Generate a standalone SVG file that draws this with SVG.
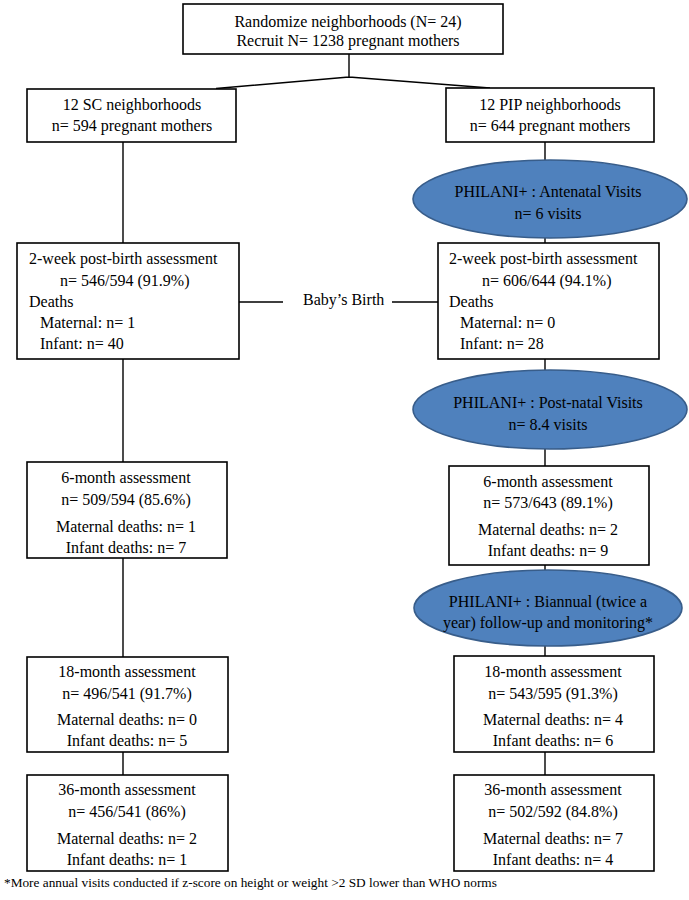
<svg xmlns="http://www.w3.org/2000/svg" width="689" height="900" viewBox="0 0 689 900">
<style>
text{font-family:"Liberation Serif","Times New Roman",serif;font-size:16px;fill:#000}
.c{text-anchor:middle}
.box{fill:#fff;stroke:#000;stroke-width:1.6}
.ell{fill:#4f81bd;stroke:#385d8a;stroke-width:1.6}
.ln{stroke:#000;stroke-width:1.4;fill:none}
.fn{font-size:13.3px}
</style>
<rect width="689" height="900" fill="#fff"/>
<g id="connectors">
<path class="ln" d="M349 54V77M349 77L216 88.5M349 77L490 88"/>
<path class="ln" d="M123 142V243M123 359V462M123 558V657M123 752V775"/>
<path class="ln" d="M545 142V160M545 238V243M545 359V370M545 449V466M545 565V570M545 646V656M545 752V775"/>
<path class="ln" d="M239 302H283M392 302H438"/>
</g>
<g id="n-top"><rect class="box" x="183" y="4" width="320" height="50"/>
<text class="c" x="348" y="27">Randomize neighborhoods (N= 24)</text>
<text class="c" x="348" y="46">Recruit N= 1238 pregnant mothers</text></g>
<g id="n-sc"><rect class="box" x="27" y="89" width="209" height="53"/>
<text class="c" x="132" y="110">12 SC neighborhoods</text>
<text class="c" x="132" y="131">n= 594 pregnant mothers</text></g>
<g id="n-pip"><rect class="box" x="446" y="88" width="208" height="54"/>
<text class="c" x="550" y="110">12 PIP neighborhoods</text>
<text class="c" x="550" y="131">n= 644 pregnant mothers</text></g>
<g id="e-ante"><ellipse class="ell" cx="550" cy="199" rx="137" ry="39"/>
<text class="c" x="548" y="197">PHILANI+ : Antenatal Visits</text>
<text class="c" x="548" y="219">n= 6 visits</text></g>
<g id="n-sc2w"><rect class="box" x="17" y="243" width="222" height="116"/>
<text x="29" y="264">2-week post-birth assessment</text>
<text x="60" y="286">n= 546/594 (91.9%)</text>
<text x="29" y="307">Deaths</text>
<text x="40" y="328">Maternal: n= 1</text>
<text x="40" y="349">Infant: n= 40</text></g>
<g id="birth"><text x="303" y="305">Baby’s Birth</text></g>
<g id="n-pip2w"><rect class="box" x="438" y="243" width="221" height="116"/>
<text x="449" y="264">2-week post-birth assessment</text>
<text x="482" y="286">n= 606/644 (94.1%)</text>
<text x="449" y="307">Deaths</text>
<text x="460" y="328">Maternal: n= 0</text>
<text x="460" y="349">Infant: n= 28</text></g>
<g id="e-post"><ellipse class="ell" cx="550" cy="409.5" rx="137" ry="39.5"/>
<text class="c" x="548" y="408">PHILANI+ : Post-natal Visits</text>
<text class="c" x="548" y="430">n= 8.4 visits</text></g>
<g id="n-sc6"><rect class="box" x="27" y="462" width="200" height="96"/>
<text class="c" x="126" y="483">6-month assessment</text>
<text class="c" x="126" y="505">n= 509/594 (85.6%)</text>
<text class="c" x="126" y="532">Maternal deaths: n= 1</text>
<text class="c" x="126" y="553">Infant deaths: n= 7</text></g>
<g id="n-pip6"><rect class="box" x="449" y="466" width="200" height="99"/>
<text class="c" x="548" y="487">6-month assessment</text>
<text class="c" x="548" y="508">n= 573/643 (89.1%)</text>
<text class="c" x="548" y="535">Maternal deaths: n= 2</text>
<text class="c" x="548" y="556">Infant deaths: n= 9</text></g>
<g id="e-bi"><ellipse class="ell" cx="548" cy="608" rx="134" ry="38"/>
<text class="c" x="548" y="607">PHILANI+ : Biannual (twice a</text>
<text class="c" x="548" y="628">year) follow-up and monitoring*</text></g>
<g id="n-sc18"><rect class="box" x="27" y="657" width="201" height="95"/>
<text class="c" x="127" y="677">18-month assessment</text>
<text class="c" x="127" y="699">n= 496/541 (91.7%)</text>
<text class="c" x="127" y="725">Maternal deaths: n= 0</text>
<text class="c" x="127" y="746">Infant deaths: n= 5</text></g>
<g id="n-pip18"><rect class="box" x="454" y="656" width="200" height="96"/>
<text class="c" x="553" y="677">18-month assessment</text>
<text class="c" x="553" y="699">n= 543/595 (91.3%)</text>
<text class="c" x="553" y="725">Maternal deaths: n= 4</text>
<text class="c" x="553" y="746">Infant deaths: n= 6</text></g>
<g id="n-sc36"><rect class="box" x="27" y="775" width="201" height="96"/>
<text class="c" x="127" y="795">36-month assessment</text>
<text class="c" x="127" y="817">n= 456/541 (86%)</text>
<text class="c" x="127" y="844">Maternal deaths: n= 2</text>
<text class="c" x="127" y="865">Infant deaths: n= 1</text></g>
<g id="n-pip36"><rect class="box" x="454" y="775" width="200" height="96"/>
<text class="c" x="553" y="795">36-month assessment</text>
<text class="c" x="553" y="817">n= 502/592 (84.8%)</text>
<text class="c" x="553" y="844">Maternal deaths: n= 7</text>
<text class="c" x="553" y="865">Infant deaths: n= 4</text></g>
<text class="fn" x="4" y="887">*More annual visits conducted if z-score on height or weight &gt;2 SD lower than WHO norms</text>
</svg>
